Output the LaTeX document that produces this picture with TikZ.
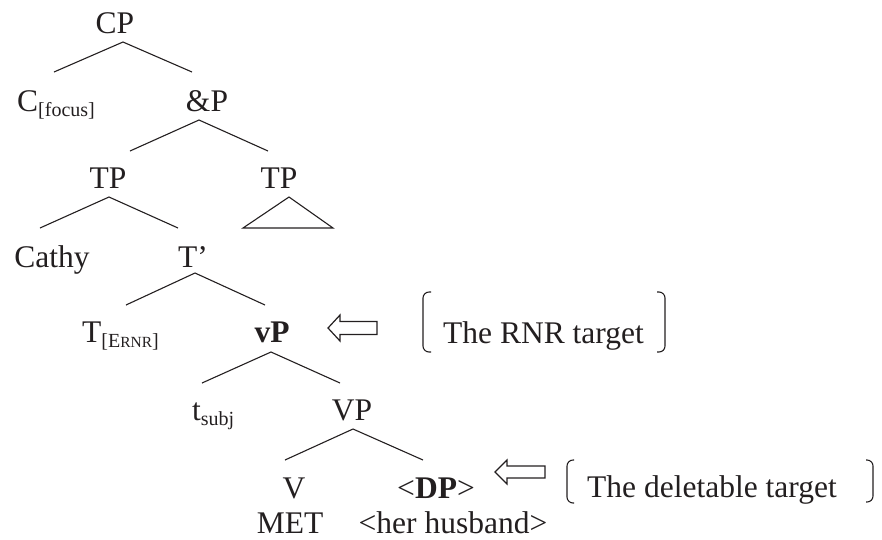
\documentclass[tikz,border=0pt]{standalone}
\usepackage{fontspec}
\setmainfont{Liberation Serif}
\definecolor{ink}{RGB}{35,31,32}
\newcommand\lab[1]{\raisebox{-5pt}{\fontsize{20}{20}\selectfont #1}}

\begin{document}
\begin{tikzpicture}[x=1pt,y=-1pt,
   lbl/.style={inner sep=0pt,anchor=base,text=ink,
    font=\fontsize{31.5}{36}\selectfont},
   lblw/.style={lbl,anchor=base west},
   branch/.style={draw=ink,line width=1.1pt},
   hollow/.style={draw=ink,line width=1.2pt,line join=miter},
   brack/.style={draw=ink,line width=1.1pt,rounded corners=6pt}
   ]
  \useasboundingbox (0,0) rectangle (882,539);

  % -- tree labels
  \node[lbl] at (115,33) (cp) {CP};
  \node[lblw] at (17,111) (cfoc) {C\lab{[focus]}};
  \node[lbl] at (207,111) (andp) {\&P};
  \node[lbl] at (108,188) (tpa) {TP};
  \node[lbl] at (279,188) (tpb) {TP};
  \node[lbl] at (52,267) (cathy) {Cathy};
  \node[lbl] at (193,267) (tbar) {T’};
  \node[lblw] at (82,342) (tern) {T\lab{[E{\fontsize{15.5}{15}\selectfont RNR}]}};
  \node[lbl] at (272,342) (vp) {\textbf{vP}};
  \node[lblw] at (192,420) (tsubj) {t\lab{subj}};
  \node[lbl] at (352,420) (bigvp) {VP};
  \node[lbl] at (294,498) (verb) {V};
  \node[lbl] at (436,498) (dp) {<\textbf{DP}>};
  \node[lbl] at (290,533) (met) {MET};
  \node[lbl] at (453,533) (husband) {<her husband>};

  % -- branches
  \draw[branch] ([shift={(8,9)}]cp.base) +(-69,30) -- +(0,0) -- +(69,30);
  \draw[branch] ([shift={(-8,9)}]andp.base) +(-69,31) -- +(0,0) -- +(69,31);
  \draw[branch] ([shift={(1,9)}]tpa.base) +(-69,31) -- +(0,0) -- +(69,31);
  \draw[branch] ([shift={(10,9)}]tpb.base) +(-46,31) -- +(0,0) -- +(44,31) -- cycle;
  \draw[branch] ([shift={(2,6)}]tbar.base) +(-69,32) -- +(0,0) -- +(70,32);
  \draw[branch] ([shift={(-1,10)}]vp.base) +(-69,31) -- +(0,0) -- +(69,31);
  \draw[branch] ([shift={(1,9)}]bigvp.base) +(-68,31) -- +(0,0) -- +(70,31);

  % -- targets
  \node[lblw] at (443,343) (rnr) {The RNR target};
  \node[lblw] at (587,497) (del) {The deletable target};

  \draw[hollow] (328,328) -- ++(12,-13) -- ++(0,6.5) -- ++(37,0)
     -- ++(0,13) -- ++(-37,0) -- ++(0,6.5) -- cycle;
  \draw[hollow] (495,472) -- ++(12,-12) -- ++(0,6) -- ++(38,0)
     -- ++(0,12) -- ++(-38,0) -- ++(0,6) -- cycle;

  \draw[brack] (431,292) -- (423,292) -- (423,352) -- (431,352);
  \draw[brack] (657,292) -- (665,292) -- (665,352) -- (657,352);
  \draw[brack] (574,460) -- (567,460) -- (567,503) -- (574,503);
  \draw[brack] (866,460) -- (873,460) -- (873,502) -- (866,502);

\end{tikzpicture}
\end{document}
